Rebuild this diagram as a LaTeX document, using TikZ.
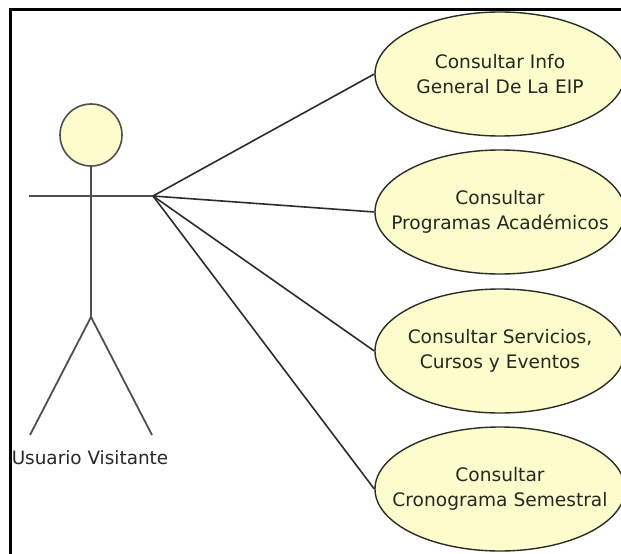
\documentclass[tikz,border=0pt]{standalone}
\usepackage{fontspec}
\setmainfont{DejaVu Sans}
\usetikzlibrary{shapes.geometric}
\definecolor{ucfill}{RGB}{252,252,204}
\definecolor{ucline}{RGB}{45,45,40}
\definecolor{figline}{RGB}{80,80,80}
\definecolor{txt}{RGB}{40,40,35}
\begin{document}
\begin{tikzpicture}[x=1pt,y=-1pt,
  usecase/.style={ellipse,draw=ucline,line width=1.4pt,fill=ucfill,
    minimum width=250pt,minimum height=124pt,inner sep=0pt},
  uctext/.style={align=center,text=txt,inner sep=0pt,
    font=\fontsize{18.6}{25}\selectfont},
  figure/.style={draw=figline,line width=1.8pt},
  assoc/.style={draw=ucline,line width=1.6pt},
  frameline/.style={draw=black,line width=3pt}]
\useasboundingbox (0,0) rectangle (621,554);
\clip (0,0) rectangle (621,554);
\fill[white] (0,0) rectangle (621,554);
% outer frame (only top and left edges fall inside the page)
\draw[frameline] (10,600) -- (10,9) -- (660,9);

% actor
\node[circle,draw=figline,line width=1.6pt,fill=ucfill,minimum size=62pt,inner sep=0pt] (head) at (91,135) {};
\coordinate (hip) at (91,317);
\coordinate (lhand) at (29,196);
\coordinate (hand) at (153,196);
\coordinate (lfoot) at (30,435);
\coordinate (rfoot) at (152,435);
\draw[figure] (head.south) -- (hip);
\draw[figure] (lhand) -- (hand);
\draw[figure] (lfoot) -- (hip) -- (rfoot);
\node[text=txt,font=\fontsize{18.4}{22}\selectfont] (actor) at (90,458) {Usuario Visitante};

% use cases: fixed-size ellipses with their labels on top
\node[usecase] (uc1) at (500,74) {};
\node[usecase] (uc2) at (500,212) {};
\node[usecase] (uc3) at (500,351) {};
\node[usecase] (uc4) at (500,489) {};
\node[uctext] (t1) at (uc1) {Consultar Info\\General De La EIP};
\node[uctext] (t2) at (uc2) {Consultar\\Programas Académicos};
\node[uctext] (t3) at (uc3) {Consultar Servicios,\\Cursos y Eventos};
\node[uctext] (t4) at (uc4) {Consultar\\Cronograma Semestral};

% associations
\foreach \u in {uc1,uc2,uc3,uc4}
  \draw[assoc] (hand) -- (\u.west);
\end{tikzpicture}
\end{document}
